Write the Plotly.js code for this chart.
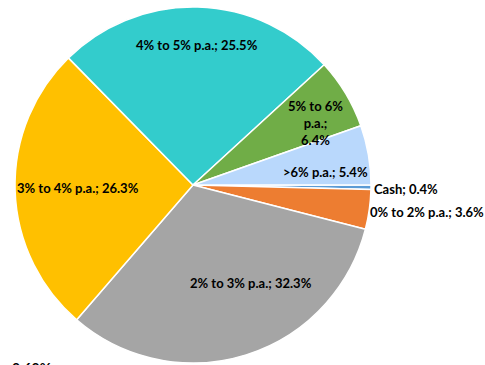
<!DOCTYPE html>
<html>
<head>
<meta charset="utf-8">
<script src="https://cdn.plot.ly/plotly-3.0.1.min.js"></script>
<style>
  html, body { margin: 0; padding: 0; background: #ffffff; }
  #chart { width: 485px; height: 365px; }
</style>
</head>
<body>
<div id="chart"></div>
<script>
// Portfolio split by expected return band
var categories = ['Cash', '0% to 2% p.a.', '2% to 3% p.a.', '3% to 4% p.a.', '4% to 5% p.a.', '5% to 6% p.a.', '>6% p.a.'];
var shares = [0.4, 3.6, 32.3, 26.3, 25.5, 6.4, 5.4];
var sliceColors = ['#5B9BD5', '#ED7D31', '#A5A5A5', '#FFC000', '#33CCCC', '#70AD47', '#B9D8FC'];

// Label placement (paper px from top-left) and alignment for each slice
var labelPos = [
  {x: 372, y: 189, anchor: 'left'},
  {x: 368, y: 212, anchor: 'left'},
  {x: 251, y: 283, anchor: 'center'},
  {x: 78,  y: 188, anchor: 'center'},
  {x: 197, y: 45,  anchor: 'center'},
  {x: 315, y: 123, anchor: 'center'},
  {x: 325, y: 172, anchor: 'center'}
];

var W = 485, H = 365;

function labelText(i) {
  var name = categories[i];
  var val = shares[i].toFixed(1) + '%';
  if (i === 5) {
    // narrow slice: wrap the name over two lines
    return name.replace(' p.a.', '<br>p.a.') + ';<br>' + val;
  }
  return name + '; ' + val;
}

var annotations = categories.map(function (c, i) {
  var p = labelPos[i];
  return {
    x: p.x / W, y: 1 - p.y / H, xref: 'paper', yref: 'paper',
    xanchor: p.anchor, yanchor: 'middle', align: 'center',
    text: labelText(i), showarrow: false,
    font: {family: 'Lato, Carlito, sans-serif', size: 13, color: '#000000', weight: 'bold'}
  };
});

// value label peeking in at the lower edge
annotations.push({
  x: 10 / W, y: 1 - 357 / H, xref: 'paper', yref: 'paper',
  xanchor: 'left', yanchor: 'top', text: '0.60%', showarrow: false,
  font: {family: 'Lato, Carlito, sans-serif', size: 14, color: '#000000', weight: 'bold'}
});

var trace = {
  type: 'pie',
  labels: categories,
  values: shares,
  sort: false,
  direction: 'clockwise',
  rotation: 90,
  textinfo: 'none',
  hoverinfo: 'label+value',
  marker: {colors: sliceColors, line: {color: '#ffffff', width: 1.5}},
  domain: {x: [15 / W, 371 / W], y: [2 / H, 358 / H]}
};

var layout = {
  width: W, height: H,
  margin: {l: 0, r: 0, t: 0, b: 0},
  paper_bgcolor: '#ffffff',
  showlegend: false,
  annotations: annotations
};

Plotly.newPlot('chart', [trace], layout, {displayModeBar: false, staticPlot: true});
</script>
</body>
</html>
